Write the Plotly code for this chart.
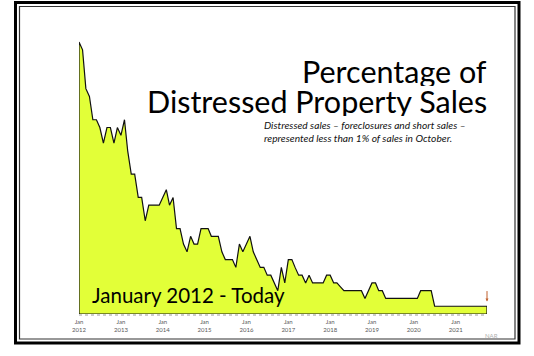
import pandas as pd
import plotly.graph_objects as go

# Monthly share of existing-home sales that were distressed (foreclosures + short sales), %
months = pd.date_range("2012-01-01", "2021-10-01", freq="MS")
distressed_pct = [
    35, 34, 29, 28, 25, 25, 24, 22, 24, 24, 22, 24,   # 2012
    23, 25, 21, 18, 18, 15, 15, 12, 14, 14, 14, 14,   # 2013
    15, 16, 14, 15, 11, 11, 9, 8, 10, 9, 9, 11,       # 2014
    11, 11, 10, 10, 10, 8, 7, 7, 7, 6, 9, 8,          # 2015
    9, 10, 8, 7, 6, 6, 5, 5, 4, 3, 6, 4,              # 2016
    7, 7, 6, 5, 5, 4, 5, 4, 4, 4, 4, 5,               # 2017
    5, 4, 4, 3.5, 3, 3, 3, 3, 3, 3, 2, 3,             # 2018
    4, 4, 3, 3, 2, 2, 2, 2, 2, 2, 2, 2,               # 2019
    2, 2, 3, 3, 3, 3, 1, 1, 1, 1, 1, 1,               # 2020
    1, 1, 1, 1, 1, 1, 1, 1, 1, 1,                     # 2021
]
tick_dates = pd.date_range("2012-01-01", "2021-01-01", freq="YS")
tick_labels = [f"Jan<br>{d.year}" for d in tick_dates]

W, H = 534, 356
ML, MR, MT, MB = 79, 47, 30, 42
PW, PH = W - ML - MR, H - MT - MB
Y_MAX = PH / 7.77


def px(x):
    """pixel column -> paper x"""
    return (x - ML) / PW


def py(y):
    """pixel row -> paper y"""
    return (H - MB - y) / PH


# closed outline so the area has edges on every side
xs = [months[0]] + list(months) + [months[-1], months[0]]
ys = [0] + distressed_pct + [0, 0]

fig = go.Figure()
fig.add_trace(go.Scatter(
    x=xs, y=ys, mode="lines", fill="toself",
    fillcolor="#E2FF38",
    line=dict(color="#111111", width=1.2),
    hoverinfo="skip", showlegend=False,
))

font = "Lato, 'Open Sans', sans-serif"
shapes = [
    # dotted baseline
    dict(type="line", xref="paper", yref="paper", x0=0, x1=1, y0=py(315), y1=py(315),
         line=dict(color="#9a9a9a", width=1, dash="dot")),
    # double frame
    dict(type="rect", xref="paper", yref="paper",
         x0=px(15.5), x1=px(519), y0=py(2.5), y1=py(343),
         line=dict(color="#000000", width=3)),
    dict(type="rect", xref="paper", yref="paper",
         x0=px(19.5), x1=px(515), y0=py(6.5), y1=py(339),
         line=dict(color="#333333", width=1.2)),
]

annotations = [
    dict(text="Percentage of", x=px(489), y=py(71), xref="paper", yref="paper",
         xanchor="right", yanchor="middle", showarrow=False, height=30,
         font=dict(family=font, size=30.5, color="#000000")),
    dict(text="Distressed Property Sales", x=px(489), y=py(101), xref="paper", yref="paper",
         xanchor="right", yanchor="middle", showarrow=False, height=30,
         font=dict(family=font, size=30.5, color="#000000")),
    dict(text="<i>Distressed sales \u2013 foreclosures and short sales \u2013<br>"
              "represented less than 1% of sales in October.</i>",
         x=px(262), y=py(131), xref="paper", yref="paper",
         xanchor="left", yanchor="middle", align="left", showarrow=False,
         font=dict(family=font, size=10.2, color="#111111")),
    dict(text="January 2012 - Today", x=px(90), y=py(295), xref="paper", yref="paper",
         xanchor="left", yanchor="middle", showarrow=False,
         font=dict(family=font, size=20.5, color="#000000")),
    dict(text="NAR", x=px(491), y=py(335), xref="paper", yref="paper",
         xanchor="center", yanchor="middle", showarrow=False,
         font=dict(family=font, size=6, color="#b0b0b0")),
    # marker for the latest month
    dict(text="", x=months[-1], y=1.6, xref="x", yref="y",
         showarrow=True, arrowhead=2, arrowsize=0.6, arrowwidth=1,
         arrowcolor="#C0602E", ax=0, ay=-12),
]

fig.update_layout(
    width=W, height=H,
    margin=dict(l=ML, r=MR, t=MT, b=MB),
    paper_bgcolor="white", plot_bgcolor="white",
    shapes=shapes, annotations=annotations,
    xaxis=dict(
        range=[months[0], months[-1]], tickmode="array",
        tickvals=tick_dates, ticktext=tick_labels,
        tickfont=dict(family=font, size=6, color="#595959"),
        ticklabelstandoff=3,
        showgrid=False, zeroline=False, showline=False, ticks="",
    ),
    yaxis=dict(range=[0, Y_MAX], visible=False),
)

fig.write_html("out.html")
